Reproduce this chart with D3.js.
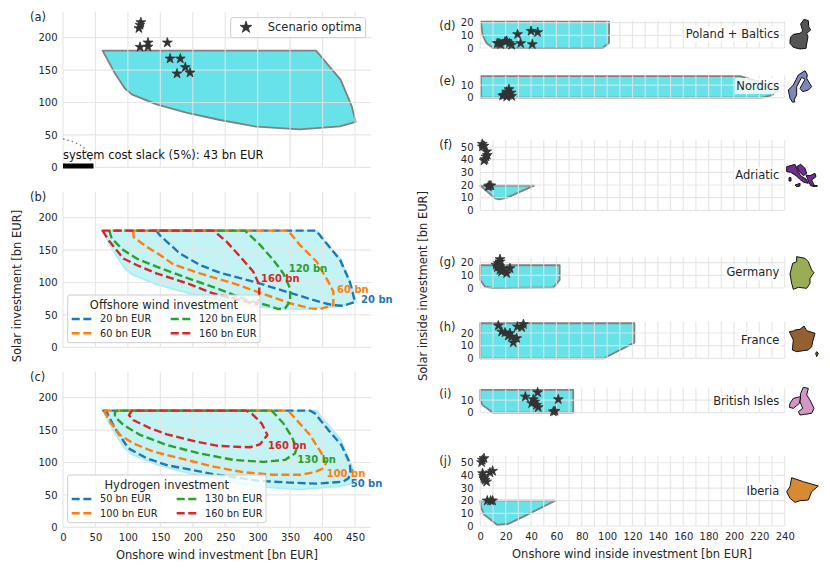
<!DOCTYPE html>
<html><head><meta charset="utf-8">
<script src="https://cdn.jsdelivr.net/npm/d3@7"></script>
<style>html,body{margin:0;padding:0;background:#fff}svg{display:block}text{font-family:"DejaVu Sans",sans-serif;fill:#262626}</style>
</head><body><svg id="c" width="830" height="573"></svg>
<script>
// ---------- data ----------
const feasibleSpace=[[61,180],[390,180],[428,135],[445,94],[451,70],[427,63],[365,58.6],[298,62.7],[242,73],[190,84.3],[144,97],[106,112.6],[95,122],[80,145]];
const scenarioOptima=[[120,223.7],[118.7,219.6],[117,214.5],[118.7,185.6],[131,192.3],[131,186],[160.8,192.3],[165,167.6],[180.8,167.6],[188.5,154.3],[195.7,146],[175.7,144.5]];
const slackArc=[[0,44],[16,39.5],[31,32],[41.6,14],[44,6]];
const slackBar=[0,47];
const offshore20=[[144,180],[390,180],[427,135],[442,101],[450,70],[432,64],[416,65],[396,70],[350,84],[298,100],[242,115],[211,127],[180,145],[150,172]];
const offshore60=[[108,180],[109,170],[129,155],[149.5,142.5],[170,128],[211,114],[262.5,98.8],[298.5,86],[350,68],[381,60],[396,59],[416.6,65],[416.6,86],[409,101],[391,132],[365,158],[347,180]];
const offshore120=[[71.4,180],[75,168],[93,150],[113.5,137],[144,124.5],[185.5,109],[237,91],[283,73],[314,65],[332,59],[342,60],[350,70.5],[350,91],[339.5,114],[324,135],[303.6,158],[280.5,180]];
const offshore160=[[61,180],[70,165.6],[93,137],[113.5,127],[144,114],[190.6,99],[231.7,83],[273,73],[298.5,66],[302,75.6],[302.6,96],[293,117],[273,140],[252,163],[232,180]];
const hydrogen50=[[62,180],[67,178.5],[80,153],[100.7,122],[129,106.5],[160,96],[232,82],[303.6,71.5],[350,69],[391,67.4],[432,70.5],[440,75.6],[443,86],[442,99],[429,127],[409,150],[388,176],[380.6,180]];
const hydrogen100=[[63,180],[72.4,163],[88,142.5],[108,129.6],[139,116.8],[190.6,104],[231.7,93.6],[278,85],[324,81],[365,81],[388,85],[401,91],[405.3,98.8],[398.6,114],[380.6,142.5],[360,165.6],[347,180]];
const hydrogen130=[[85,180],[80,178],[80,170.8],[93,158],[118.7,142.5],[160,127],[211,114],[262.5,104],[308.7,101],[342,104],[357.5,114],[360,122],[352.4,140],[339.5,160.5],[321.6,180]];
const hydrogen160=[[106,180],[101.7,173],[108,165.6],[134,153],[160,143.5],[206,132],[237,126],[262.5,124.5],[288,123.5],[303.6,128],[315,142.5],[306,160.5],[292,174.4],[283,180]];
const offshoreNames=["20 bn EUR","60 bn EUR","120 bn EUR","160 bn EUR"];
const hydrogenNames=["50 bn EUR","100 bn EUR","130 bn EUR","160 bn EUR"];
const offshoreTags=["20 bn","60 bn","120 bn","160 bn"];
const hydrogenTags=["50 bn","100 bn","130 bn","160 bn"];
const leftXTicks=[0,50,100,150,200,250,300,350,400,450];
const leftYTicks=[0,50,100,150,200];
const rightXTicks=d3.range(0,241,20);
const rightXGrid=d3.range(0,241,10);
const polandSpace=[[0.5,20.8],[1.8,10.3],[5,3.7],[10,0],[96.5,0],[101.5,4.2],[101.5,20.8]];
const nordicsSpace=[[0.5,17],[205,17],[225,11],[235,6],[230,2],[222,0],[0.5,0]];
const adriaticSpace=[[0,19.5],[11.6,9.5],[15,8.7],[21,10],[42.3,19.5]];
const germanySpace=[[0,18],[62.6,18],[62.6,6.3],[57.6,0.5],[10,0],[3.7,1],[0,6.3]];
const franceSpace=[[0,27.7],[121.5,27.7],[121.5,12.4],[97.5,0],[0,0]];
const islesSpace=[[0,18],[73.3,18],[73.3,0],[10,0],[1.8,6],[0,10]];
const iberiaSpace=[[0,20],[59,20],[34,7.4],[22,1.6],[13.4,0.8],[3,9],[0.5,15]];
const polandStars=[[14.7,3.7],[20.8,5.5],[22.9,3.7],[24.7,2.4],[29.4,10.8],[31.8,3.7],[40,13.4],[45.2,12.4],[41,2.9],[13.4,3.7],[16,2.9],[19.5,5]];
const nordicsStars=[[22.6,6.6],[20.8,4.7],[24.2,3.9],[18.9,2.1],[22,2.1],[24.7,1.3],[17.6,1.6],[20.8,0.8]];
const adriaticStars=[[1.6,52.4],[2.9,50.9],[5,46.4],[5.5,43.7],[3.7,40.3],[2.9,39.3],[4.5,42.4],[7.1,19.5],[6.3,18.7],[8.4,19.5],[1.6,50.3]];
const germanyStars=[[15.5,22.7],[14.2,19.5],[12.4,18.2],[13.4,16.3],[15.5,14.2],[18.1,15.5],[20.8,11.6],[23.4,15.5],[15.5,20.8],[16.8,12.9],[15,16.9]];
const franceStars=[[14.2,25.8],[16.8,21],[19.5,20.3],[22,17.7],[24.7,17.1],[28.7,15.8],[26,12.4],[29.2,25],[32.6,24.5],[34,26.9],[23.4,19.8]];
const islesStars=[[45.2,16],[35.5,12.6],[41.8,10.5],[40.5,7.4],[44.4,6],[45.7,4.2],[61.5,10.5],[58.9,1.3],[57.6,0.8],[43,8.7]];
const iberiaStars=[[2.9,53.5],[1,50.3],[1.6,52.2],[9.7,43.5],[7.6,42.2],[1.8,41.6],[2.9,37.7],[5,35],[3.7,36.3],[5.5,20],[9.7,20],[8.1,20],[2.4,39.5]];
// country outlines, in map units
const polandShape=[[[30,90],[33,80],[40,73],[60,70],[68,63],[62,42],[72,28],[85,32],[86,50],[92,60],[80,70],[84,80],[82,90],[78,115],[60,117],[40,112],[30,100]]];
const nordicsShape=[[[75,182],[82,195],[80,205],[95,230],[85,240],[68,245],[60,235],[75,208],[65,202],[50,230],[50,255],[42,270],[45,275],[38,277],[30,265],[25,240],[40,225],[55,195]]];
const adriaticShape=[[[20,35],[45,28],[52,45],[62,62],[78,72],[85,85],[72,82],[62,75],[48,62],[32,52],[20,50]],[[45,90],[60,85],[60,93],[50,95]],[[27,68],[33,68],[33,78],[27,78]],[[50,35],[62,28],[75,40],[80,55],[70,62],[58,50]],[[78,60],[90,62],[105,55],[108,65],[95,75],[100,85],[105,95],[92,92],[85,78]],[[100,92],[112,92],[112,94],[100,94]]];
const germanyShape=[[[50,305],[75,310],[85,320],[95,345],[102,353],[90,370],[90,385],[80,400],[55,397],[40,403],[35,385],[30,357],[38,325],[50,320]]];
const franceShape=[[[72,18],[80,32],[105,40],[98,65],[95,80],[85,90],[70,92],[50,95],[37,90],[40,60],[28,35],[40,33],[45,30],[60,28]],[[110,95],[115,100],[110,110],[107,100]]];
const islesShape=[[[70,202],[85,205],[80,225],[90,240],[102,265],[95,280],[60,285],[55,275],[68,265],[60,245],[62,220]],[[30,250],[40,235],[62,230],[58,250],[40,265],[28,262]]];
const iberiaShape=[[[35,23],[70,35],[115,48],[95,65],[85,90],[60,92],[45,97],[30,85],[20,65],[30,50]]];

// ---------- drawing ----------
const svg=d3.select("#c");
const colors=["#1f77b4","#ff7f0e","#2ca02c","#d62728"];
const GRID="#e3e3e3",STAR="#333333",EDGE="#808080",FILL="#66e2e8";
const line=d3.line(), closed=d3.line().curve(d3.curveLinearClosed);
const star=d3.symbol().type(d3.symbolStar);
const leftX=d3.scaleLinear().domain([0,475]).range([63,63+475*0.6489]);
const rightX=d3.scaleLinear().domain([0,240]).range([480.3,784.7]);

function grid(g,x,y,xt,yt){
  const gg=g.append("g").attr("class","grid");
  xt.forEach(v=>gg.append("line").attr("x1",x(v)).attr("x2",x(v)).attr("y1",y.range()[0]).attr("y2",y.range()[1]));
  yt.forEach(v=>gg.append("line").attr("y1",y(v)).attr("y2",y(v)).attr("x1",x.range()[0]).attr("x2",x.range()[1]));
  gg.selectAll("line").attr("stroke",GRID).attr("stroke-width",1.2).attr("stroke-opacity",.85);
}
function axes(g,x,y,xt,yt,labX,labY){
  const ya=g.append("g").attr("transform",`translate(${labY},0)`).call(d3.axisLeft(y).tickValues(yt).tickSize(0).tickPadding(0));
  ya.select(".domain").remove(); ya.selectAll("text").attr("font-size",10);
  if(labX!=null){
    const xa=g.append("g").attr("transform",`translate(0,${labX})`).call(d3.axisBottom(x).tickValues(xt).tickSize(0).tickPadding(0));
    xa.select(".domain").remove(); xa.selectAll("text").attr("font-size",10);
  }
}
function stars(g,x,y,pts,size){
  g.selectAll(null).data(pts).join("path").attr("d",star.size(size||30)())
   .attr("transform",d=>`translate(${x(d[0])},${y(d[1])})`).attr("fill",STAR).attr("stroke",STAR).attr("stroke-width",.8).attr("stroke-linejoin","round");
}
function txt(x,y,s,o={}){
  return svg.append("text").attr("x",x).attr("y",y).attr("dy","0.35em").attr("font-size",o.size||11.5)
   .attr("text-anchor",o.anchor||"start").attr("font-weight",o.weight||"normal").style("fill",o.color||"#262626").text(s);
}
function legendBox(x0,y0,w,h){
  svg.append("rect").attr("x",x0).attr("y",y0).attr("width",w).attr("height",h).attr("rx",2)
   .attr("fill","#fff").attr("fill-opacity",.8).attr("stroke","#ccc").attr("stroke-width",1);
}

// (a)
{
  const y=d3.scaleLinear().domain([0,240]).range([167.3,167.3-240*0.648]);
  const g=svg.append("g");
  const pt=closed.x(d=>leftX(d[0])).y(d=>y(d[1]));
  g.append("path").attr("d",pt(feasibleSpace)).attr("fill",FILL).attr("stroke",EDGE).attr("stroke-width",1.8).attr("stroke-linejoin","round");
  grid(g,leftX,y,leftXTicks,leftYTicks);
  axes(g,leftX,y,leftXTicks,leftYTicks,null,57.5);
  g.append("path").attr("d",line.x(d=>leftX(d[0])).y(d=>y(d[1]))(slackArc)).attr("fill","none").attr("stroke","#808080").attr("stroke-width",1.5).attr("stroke-dasharray","1.5,3");
  g.append("line").attr("x1",leftX(slackBar[0])).attr("x2",leftX(slackBar[1])).attr("y1",y(2)).attr("y2",y(2)).attr("stroke","#000").attr("stroke-width",5);
  stars(g,leftX,y,scenarioOptima);
  txt(63,154.5,"system cost slack (5%): 43 bn EUR",{size:11.5,color:"#111"});
  txt(30,16.7,"(a)");
  legendBox(230.7,17.7,135,20);
  svg.append("path").attr("d",star.size(44)()).attr("transform","translate(246,27.3)").attr("fill",STAR).attr("stroke",STAR).attr("stroke-width",.8);
  txt(267.7,27.3,"Scenario optima",{size:11.5});
}
function sensitivity(y0,seriesList,names,tags,tagPos,box,legendCols,title,titleX){
  const y=d3.scaleLinear().domain([0,240]).range([y0,y0-240*0.648]);
  const g=svg.append("g");
  const pt=closed.x(d=>leftX(d[0])).y(d=>y(d[1]));
  g.append("path").attr("d",pt(feasibleSpace)).attr("fill","#c4f3f5").attr("stroke","#a8eef2").attr("stroke-width",1.8);
  grid(g,leftX,y,leftXTicks,leftYTicks);
  seriesList.forEach((s,i)=>{
    g.append("path").attr("d",pt(s)).attr("fill","none").attr("stroke",colors[i]).attr("stroke-width",2.4)
     .attr("stroke-dasharray","8,3.6").attr("stroke-linejoin","round");
  });
  tags.forEach((t,i)=>txt(tagPos[i][0],tagPos[i][1],t,{size:10,weight:"bold",color:colors[i]}));
  legendBox(...box);
  txt(titleX,box[1]+9.5,title,{size:11.5,anchor:"middle"});
  names.forEach((n,i)=>{
    const c=legendCols[Math.floor(i/2)], ry=box[1]+24+(i%2)*14.3;
    svg.append("line").attr("x1",c[0]).attr("x2",c[0]+20).attr("y1",ry).attr("y2",ry).attr("stroke",colors[i]).attr("stroke-width",2.4).attr("stroke-dasharray","8,3.6");
    txt(c[1],ry,n,{size:9.8});
  });
  return {g,y};
}
{
  const {g,y}=sensitivity(347.3,[offshore20,offshore60,offshore120,offshore160],offshoreNames,offshoreTags,
    [[361,299.3],[337,289],[288.7,268.7],[261,278]],[67.7,295,192.3,47.7],[[71.7,100],[170.7,199]],"Offshore wind investment",164);
  axes(g,leftX,y,leftXTicks,leftYTicks,null,57.5);
  txt(30,196.7,"(b)");
}
{
  const {g,y}=sensitivity(527.3,[hydrogen50,hydrogen100,hydrogen130,hydrogen160],hydrogenNames,hydrogenTags,
    [[350.7,483.7],[326.7,473],[297.3,459.7],[268,445.3]],[67.7,475,198.3,47.7],[[71.7,100],[176.7,205]],"Hydrogen investment",166.7);
  axes(g,leftX,y,leftXTicks,leftYTicks,534,57.5);
  txt(30,376.7,"(c)");
}
txt(217,555,"Onshore wind investment [bn EUR]",{anchor:"middle",size:11.5});
svg.append("text").attr("transform","translate(16.7,286) rotate(-90)").attr("text-anchor","middle").attr("dy","0.35em").attr("font-size",11.5).text("Solar investment [bn EUR]");

// right-hand panels
const regions=[
 {tag:"(d)",tagY:25.7,name:"Poland + Baltics",nameY:34,y0:48,top:21.5,yt:[0,10,20],space:polandSpace,st:polandStars,shape:polandShape,col:"#555555",my:10},
 {tag:"(e)",tagY:80.7,name:"Nordics",nameY:86,y0:97.7,top:17.6,yt:[0,10],space:nordicsSpace,st:nordicsStars,shape:nordicsShape,col:"#7f86bb",my:10},
 {tag:"(f)",tagY:145,name:"Adriatic",nameY:175,y0:210.3,top:55.5,yt:[0,10,20,30,40,50],space:adriaticSpace,st:adriaticStars,shape:adriaticShape,col:"#6f2c91",my:155},
 {tag:"(g)",tagY:262.3,name:"Germany",nameY:272.3,y0:288,top:24.7,yt:[0,10,20],space:germanySpace,st:germanyStars,shape:germanyShape,col:"#9aad55",my:155},
 {tag:"(h)",tagY:326.7,name:"France",nameY:339.7,y0:358.3,top:29,yt:[0,10,20],space:franceSpace,st:franceStars,shape:franceShape,col:"#95602f",my:320},
 {tag:"(i)",tagY:394,name:"British Isles",nameY:400.7,y0:412.7,top:19.2,yt:[0,10],space:islesSpace,st:islesStars,shape:islesShape,col:"#d596c6",my:320},
 {tag:"(j)",tagY:460.7,name:"Iberia",nameY:490.7,y0:526,top:55.5,yt:[0,10,20,30,40,50],space:iberiaSpace,st:iberiaStars,shape:iberiaShape,col:"#d88a33",my:470}
];
regions.forEach((r,idx)=>{
  const y=d3.scaleLinear().domain([0,r.top]).range([r.y0,r.y0-r.top*1.265]);
  const g=svg.append("g");
  const pt=closed.x(d=>rightX(d[0])).y(d=>y(d[1]));
  g.append("path").attr("d",pt(r.space)).attr("fill",FILL).attr("stroke",EDGE).attr("stroke-width",1.8).attr("stroke-linejoin","round");
  grid(g,rightX,y,rightXGrid,r.yt);
  axes(g,rightX,y,rightXTicks,r.yt,idx===6?533:null,473.5);
  stars(g,rightX,y,r.st);
  txt(439.3,r.tagY,r.tag);
  const t=txt(779.3,r.nameY,r.name,{anchor:"end",size:11.5});
  const b=t.node().getBBox();
  svg.append("rect").attr("x",b.x-1.5).attr("y",b.y-1).attr("width",b.width+3).attr("height",b.height+2).attr("fill","#fff").attr("fill-opacity",.8);
  t.raise();
  const mx=d3.scaleLinear().domain([0,150]).range([780,830]);
  const my=d3.scaleLinear().domain([0,150]).range([r.my,r.my+50]);
  const mp=closed.x(d=>mx(d[0])).y(d=>my(d[1]));
  r.shape.forEach(s=>svg.append("path").attr("d",mp(s)).attr("fill",r.col).attr("stroke","#111").attr("stroke-width",1).attr("stroke-linejoin","round"));
});
txt(632,554,"Onshore wind inside investment [bn EUR]",{anchor:"middle",size:11.5});
svg.append("text").attr("transform","translate(422.7,286) rotate(-90)").attr("text-anchor","middle").attr("dy","0.35em").attr("font-size",11.5).text("Solar inside investment [bn EUR]");
</script></body></html>
